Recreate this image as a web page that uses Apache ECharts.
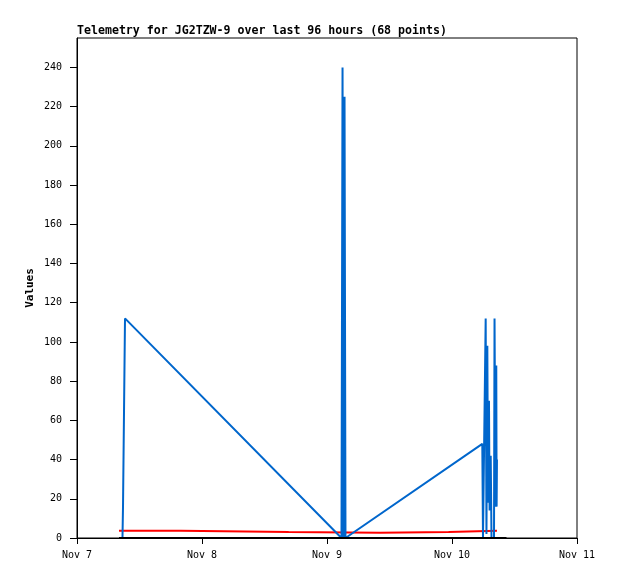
<!DOCTYPE html>
<html>
<head>
<meta charset="utf-8">
<script src="https://cdn.jsdelivr.net/npm/echarts@6/dist/echarts.min.js"></script>
<style>
  html, body { margin: 0; padding: 0; background: #fff; }
  #chart { width: 618px; height: 579px; }
</style>
</head>
<body>
<div id="chart"></div>
<script>
// blue channel
var blueTimes = [
  '2024-11-07 08:04', '2024-11-07 08:44', '2024-11-07 08:50', '2024-11-07 09:13',
  '2024-11-09 02:47', '2024-11-09 02:59', '2024-11-09 03:10', '2024-11-09 03:22',
  '2024-11-09 03:33', '2024-11-09 03:50',
  '2024-11-10 05:49', '2024-11-10 05:57', '2024-11-10 06:20', '2024-11-10 06:28',
  '2024-11-10 06:37', '2024-11-10 06:47', '2024-11-10 06:55', '2024-11-10 07:06',
  '2024-11-10 07:13', '2024-11-10 07:26', '2024-11-10 07:35', '2024-11-10 08:04',
  '2024-11-10 08:10', '2024-11-10 08:21', '2024-11-10 08:30', '2024-11-10 08:34',
  '2024-11-10 08:38'
];
var blueValues = [
  0, 0, 16, 112,
  0, 240, 0, 225,
  0, 1,
  48, 0, 0, 112,
  2, 98, 18, 70,
  14, 42, 0, 0,
  112, 16, 88, 16,
  40
];

// red channel (held until next reading)
var redTimes = [
  '2024-11-07 08:04', '2024-11-07 19:55', '2024-11-08 16:38',
  '2024-11-09 10:11', '2024-11-09 23:21', '2024-11-10 08:38'
];
var redValues = [3.7, 3.1, 2.7, 3.1, 3.7, 3.7];

// black channel
var blackTimes = ['2024-11-07 08:04', '2024-11-10 10:28'];
var blackValues = [0, 0];

var monthNames = ['Jan', 'Feb', 'Mar', 'Apr', 'May', 'Jun', 'Jul', 'Aug', 'Sep', 'Oct', 'Nov', 'Dec'];
var font = 'DejaVu Sans Mono';
var DAY = 24 * 3600 * 1000;

function zip(times, values) {
  return times.map(function (t, i) { return [t, values[i]]; });
}

var myChart = echarts.init(document.getElementById('chart'));
myChart.setOption({
  animation: false,
  title: {
    text: 'Telemetry for JG2TZW-9 over last 96 hours (68 points)',
    left: 72,
    top: 20,
    textStyle: { fontFamily: font, fontSize: 11.6, fontWeight: 'bold', color: '#000' }
  },
  grid: {
    left: 77, top: 38, width: 500, height: 500,
    show: true, borderColor: '#000', borderWidth: 1, backgroundColor: '#fff'
  },
  xAxis: {
    type: 'time',
    min: '2024-11-07 00:00',
    max: '2024-11-11 00:00',
    minInterval: DAY,
    maxInterval: DAY,
    axisLine: { lineStyle: { color: '#000', width: 1 } },
    axisTick: { show: true, length: 6, lineStyle: { color: '#000' } },
    splitLine: { show: false },
    axisLabel: {
      margin: 12,
      color: '#000',
      fontFamily: font,
      fontSize: 10,
      showMinLabel: true,
      showMaxLabel: true,
      formatter: function (v) {
        var d = new Date(v);
        return monthNames[d.getMonth()] + ' ' + d.getDate();
      }
    }
  },
  yAxis: {
    type: 'value',
    min: 0,
    max: 255,
    interval: 20,
    name: 'Values',
    nameLocation: 'middle',
    nameRotate: 90,
    nameGap: 41,
    nameMoveOverlap: false,
    nameTextStyle: { fontFamily: font, fontSize: 11, fontWeight: 'bold', color: '#000' },
    axisLine: { show: true, lineStyle: { color: '#000', width: 1 } },
    axisTick: { show: true, length: 7, lineStyle: { color: '#000' } },
    splitLine: { show: false },
    axisLabel: {
      margin: 15,
      color: '#000',
      fontFamily: font,
      fontSize: 10,
      showMaxLabel: false
    }
  },
  series: [
    {
      type: 'line',
      data: zip(redTimes, redValues),
      step: 'end',
      showSymbol: false,
      lineStyle: { color: '#ff0000', width: 2 }
    },
    {
      type: 'line',
      data: zip(blueTimes, blueValues),
      showSymbol: false,
      lineStyle: { color: '#0066cc', width: 2 }
    },
    {
      type: 'line',
      data: zip(blackTimes, blackValues),
      showSymbol: false,
      lineStyle: { color: '#000', width: 2 }
    }
  ]
});
</script>
</body>
</html>
